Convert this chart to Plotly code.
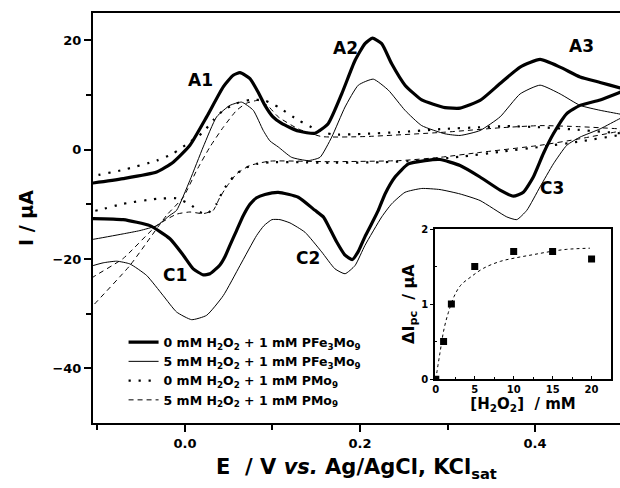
import plotly.graph_objects as go

# ---------------- data ----------------
# 0 mM H2O2 + 1 mM PFe3Mo9 (thick solid): forward scan then reverse scan
thick_E = [-0.110, -0.105, -0.0705, -0.0323, -0.0134, 0.0057, 0.0248, 0.0438, 0.0552, 0.0629,
           0.0743, 0.0834, 0.0914, 0.1000, 0.1105, 0.1295, 0.1486, 0.1638, 0.1791, 0.1943,
           0.2057, 0.2141, 0.2248, 0.2362, 0.2514, 0.2705, 0.2971, 0.3143, 0.3371, 0.3600,
           0.3829, 0.4057, 0.4286, 0.4514, 0.4743, 0.4971, 0.505,
           0.4971, 0.4743, 0.4514, 0.4362, 0.4209, 0.4095, 0.3980, 0.3866, 0.3752, 0.3600,
           0.3371, 0.3143, 0.2914, 0.2743, 0.2552, 0.2400, 0.2286, 0.2209, 0.2134, 0.2057,
           0.1981, 0.1912, 0.1829, 0.1734, 0.1638, 0.1581, 0.1486, 0.1295, 0.1066, 0.0914,
           0.0819, 0.0743, 0.0666, 0.0590, 0.0514, 0.0457, 0.0400, 0.0286, 0.0209, 0.0095,
           -0.0019, -0.0171, -0.0400, -0.0705, -0.1048, -0.110]
thick_I = [-6.2, -6.1, -5.3, -4.1, -2.3, 0.8, 6.0, 11.5, 13.6, 14.1,
           13.0, 10.6, 8.1, 6.1, 4.8, 3.4, 3.0, 4.8, 10.2, 16.3,
           19.4, 20.4, 19.4, 15.7, 11.8, 9.1, 7.7, 7.6, 9.0, 12.1,
           15.1, 16.5, 15.1, 13.3, 12.3, 11.3, 11.0,
           10.5, 9.1, 8.1, 6.6, 2.9, -0.7, -5.0, -7.8, -8.5, -7.4,
           -5.0, -2.9, -1.8, -2.0, -2.6, -5.0, -8.1, -11.1, -13.5, -15.9,
           -18.6, -20.1, -19.3, -16.9, -13.9, -12.3, -11.1, -8.7, -7.8, -8.2,
           -8.8, -10.0, -12.1, -14.8, -17.5, -19.6, -21.1, -22.7, -22.9, -21.8,
           -19.3, -16.3, -13.9, -12.8, -12.6, -12.6]

# 5 mM H2O2 + 1 mM PFe3Mo9 (thin solid)
thin_E = [-0.110, -0.1048, -0.0705, -0.0514, -0.0323, -0.0171, -0.0095, 0.0057, 0.0209, 0.0362,
          0.0514, 0.0648, 0.0781, 0.0895, 0.0971, 0.1066, 0.1219, 0.1409, 0.1543, 0.1677,
          0.1829, 0.1981, 0.2152, 0.2323, 0.2514, 0.2705, 0.2971, 0.3143, 0.3371, 0.3600,
          0.3829, 0.4057, 0.4286, 0.4514, 0.4743, 0.4971, 0.505,
          0.4971, 0.4743, 0.4514, 0.4362, 0.4209, 0.4057, 0.3905, 0.3791, 0.3677, 0.3371,
          0.3143, 0.2914, 0.2705, 0.2514, 0.2362, 0.2248, 0.2057, 0.1943, 0.1829, 0.1714,
          0.1562, 0.1371, 0.1200, 0.1086, 0.0994, 0.0903, 0.0819, 0.0629, 0.0438, 0.0248,
          0.0077, -0.0095, -0.0248, -0.0438, -0.0629, -0.0780, -0.0934, -0.1048, -0.110]
thin_I = [-16.5, -16.4, -15.4, -14.8, -13.9, -12.0, -11.1, -5.6, 0.5, 6.0,
          8.1, 8.7, 7.2, 3.5, 1.6, 0.5, -1.4, -2.0, -1.4, 2.3,
          7.8, 11.8, 12.9, 10.9, 7.2, 4.4, 2.9, 2.6, 3.5, 6.0,
          10.2, 11.8, 10.2, 8.1, 7.2, 6.5, 6.2,
          5.7, 3.8, 2.3, 0.8, -2.6, -6.8, -11.1, -12.8, -12.3, -9.3,
          -8.1, -7.3, -7.1, -7.8, -9.9, -12.3, -17.5, -21.2, -22.7, -21.8,
          -18.7, -15.1, -13.4, -12.8, -12.8, -13.9, -15.7, -21.2, -26.7, -30.3,
          -31.1, -29.7, -26.7, -23.0, -20.9, -20.4, -20.7, -21.2, -21.5]

# 0 mM H2O2 + 1 mM PMo9 (dotted)
dot_E = [-0.110, -0.1048, -0.0705, -0.0323, -0.0134, 0.0057, 0.0209, 0.0323, 0.0438, 0.0591,
         0.0743, 0.0914, 0.1066, 0.1295, 0.1486, 0.1677, 0.2057, 0.2438, 0.2971, 0.3371,
         0.3676, 0.4057, 0.4438, 0.4971, 0.505,
         0.4971, 0.4514, 0.4057, 0.3600, 0.3143, 0.2686, 0.2229, 0.1657, 0.1314, 0.0971,
         0.0819, 0.0666, 0.0552, 0.0438, 0.0362, 0.0248, 0.0171, 0.0057, -0.0095, -0.0323,
         -0.0705, -0.0971, -0.110]
dot_I = [-4.9, -4.8, -3.7, -2.0, -0.7, 1.4, 3.2, 5.4, 7.2, 8.5,
         9.1, 9.0, 7.8, 5.4, 3.8, 2.8, 2.9, 3.2, 3.8, 4.1,
         4.3, 4.1, 3.7, 3.0, 2.9,
         2.7, 1.5, 0.5, -0.4, -1.3, -2.0, -2.3, -2.4, -2.3, -2.3,
         -2.6, -3.5, -5.0, -7.4, -9.9, -11.8, -11.4, -10.0, -8.9, -9.0,
         -9.9, -11.0, -11.4]

# 5 mM H2O2 + 1 mM PMo9 (dashed)
dash_E = [-0.110, -0.1048, -0.0629, -0.0209, -0.0019, 0.0134, 0.0286, 0.0438, 0.0591, 0.0705,
          0.0834, 0.0949, 0.1066, 0.1295, 0.1562, 0.2057, 0.2971, 0.3600, 0.4057, 0.4514,
          0.4971, 0.505,
          0.4971, 0.4514, 0.4057, 0.3371, 0.2914, 0.2457, 0.1657, 0.0971, 0.0743, 0.0591,
          0.0476, 0.0400, 0.0323, 0.0209, 0.0057, -0.0095, -0.0323, -0.0705, -0.1048, -0.110]
dash_I = [-29.4, -28.5, -21.2, -12.0, -8.7, -3.8, 0.5, 4.1, 7.2, 8.5,
          9.0, 8.0, 6.0, 3.8, 2.4, 2.4, 3.2, 4.0, 4.4, 4.2,
          3.8, 3.7,
          3.4, 2.0, 0.8, -0.5, -1.4, -2.0, -2.2, -2.1, -2.9, -4.4,
          -6.8, -8.7, -11.1, -11.7, -11.4, -11.8, -13.9, -19.9, -23.3, -24.0]

series_names = [
    "0 mM H<sub>2</sub>O<sub>2</sub> + 1 mM PFe<sub>3</sub>Mo<sub>9</sub>",
    "5 mM H<sub>2</sub>O<sub>2</sub> + 1 mM PFe<sub>3</sub>Mo<sub>9</sub>",
    "0 mM H<sub>2</sub>O<sub>2</sub> + 1 mM PMo<sub>9</sub>",
    "5 mM H<sub>2</sub>O<sub>2</sub> + 1 mM PMo<sub>9</sub>",
]

peak_labels = ["A1", "A2", "A3", "C1", "C2", "C3"]
peak_label_E = [0.0183, 0.1832, 0.4526, -0.0118, 0.1406, 0.4194]
peak_label_I = [12.7, 18.6, 18.9, -22.9, -19.85, -7.1]

# inset
h2o2_mM = [0, 1, 2, 5, 10, 15, 20]
delta_Ipc = [0.0, 0.5, 1.0, 1.5, 1.7, 1.7, 1.6]
fit_x = [0, 0.55, 1.06, 1.62, 2.34, 3.19, 4.47, 6.17, 8.30, 10.43, 12.56, 14.69, 16.82, 19.8]
fit_y = [0, 0.36, 0.67, 0.89, 1.10, 1.25, 1.36, 1.48, 1.57, 1.62, 1.66, 1.70, 1.73, 1.745]

# ---------------- figure ----------------
FONT = "DejaVu Sans"
fig = go.Figure()

styles = [
    dict(color="black", width=3.2, dash="solid"),
    dict(color="black", width=1.0, dash="solid"),
    dict(color="black", width=2.2, dash="2.2px,7.8px"),
    dict(color="black", width=1.0, dash="5px,4px"),
]
curves = [(thick_E, thick_I), (thin_E, thin_I), (dot_E, dot_I), (dash_E, dash_I)]
for (ex, iy), nm, st in zip(curves, series_names, styles):
    fig.add_trace(go.Scatter(x=ex, y=iy, mode="lines", name=nm,
                             line=dict(shape="spline", smoothing=0.5, **st),
                             xaxis="x", yaxis="y"))

fig.add_trace(go.Scatter(x=fit_x, y=fit_y, mode="lines", showlegend=False,
                         line=dict(color="black", width=1, dash="3px,3px", shape="spline"),
                         xaxis="x2", yaxis="y2"))
fig.add_trace(go.Scatter(x=h2o2_mM, y=delta_Ipc, mode="markers", showlegend=False,
                         marker=dict(symbol="square", size=7, color="black"),
                         xaxis="x2", yaxis="y2"))

for t, ex, iy in zip(peak_labels, peak_label_E, peak_label_I):
    fig.add_annotation(x=ex, y=iy, xref="x", yref="y", text=t, showarrow=False,
                       font=dict(family=FONT, size=17, color="black", weight="bold"))

fig.update_layout(
    width=620, height=488,
    margin=dict(l=93, r=0, t=13, b=65),
    paper_bgcolor="white", plot_bgcolor="white",
    font=dict(family=FONT, size=13, color="black", weight="bold"),
    showlegend=True,
    legend=dict(x=0.058, y=0.233, xanchor="left", yanchor="top", bgcolor="rgba(0,0,0,0)",
                font=dict(family=FONT, size=12.5, color="black", weight="bold"),
                tracegroupgap=0, itemwidth=30),
    xaxis=dict(domain=[0, 1], range=[-0.105, 0.497], tickvals=[0.0, 0.2, 0.4], ticktext=["0.0", "0.2", "0.4"],
               ticks="outside", ticklen=7, tickwidth=1.5, tickcolor="black",
               minor=dict(tickvals=[-0.1, 0.1, 0.3, 0.5], ticks="outside", ticklen=5, tickwidth=1.5, tickcolor="black"),
               showline=True, linewidth=2, linecolor="black", mirror=True, showgrid=False, zeroline=False,
               tickfont=dict(family=FONT, size=13, weight="bold"),
               title=dict(text="E  / V <i>vs.</i> Ag/AgCl, KCl<sub>sat</sub>",
                          font=dict(family=FONT, size=21, weight="bold"), standoff=10)),
    yaxis=dict(domain=[0, 1], range=[-50, 25], tickvals=[-40, -20, 0, 20],
               ticks="outside", ticklen=7, tickwidth=1.5, tickcolor="black",
               minor=dict(tickvals=[-30, -10, 10], ticks="outside", ticklen=5, tickwidth=1.5, tickcolor="black"),
               showline=True, linewidth=2, linecolor="black", mirror=False, showgrid=False, zeroline=False,
               tickfont=dict(family=FONT, size=13, weight="bold"),
               title=dict(text="I / µA", font=dict(family=FONT, size=19, weight="bold"), standoff=14)),
    xaxis2=dict(domain=[0.649, 0.983], anchor="y2", range=[-0.1, 22.5], tickvals=[0, 5, 10, 15, 20],
                ticks="inside", ticklen=3, tickwidth=1, tickcolor="black",
                minor=dict(tickvals=[2.5, 7.5, 12.5, 17.5, 22.5], ticks="inside", ticklen=2, tickcolor="black"),
                showline=True, linewidth=1.5, linecolor="black", mirror=True, showgrid=False, zeroline=False,
                tickfont=dict(family=FONT, size=10, weight="bold"),
                title=dict(text="[H<sub>2</sub>O<sub>2</sub>]  / mM", font=dict(family=FONT, size=15, weight="bold"),
                           standoff=1)),
    yaxis2=dict(domain=[0.107, 0.473], anchor="x2", range=[0, 2], tickvals=[0, 1, 2],
                ticks="outside", ticklen=3, tickwidth=1, tickcolor="black",
                minor=dict(tickvals=[0.5, 1.5], ticks="inside", ticklen=2, tickcolor="black"),
                showline=True, linewidth=1.5, linecolor="black", mirror=True, showgrid=False, zeroline=False,
                tickfont=dict(family=FONT, size=10, weight="bold"),
                title=dict(text="ΔI<sub>pc</sub>  / µA", font=dict(family=FONT, size=16, weight="bold"),
                           standoff=3)),
)

fig.write_html("out.html")
